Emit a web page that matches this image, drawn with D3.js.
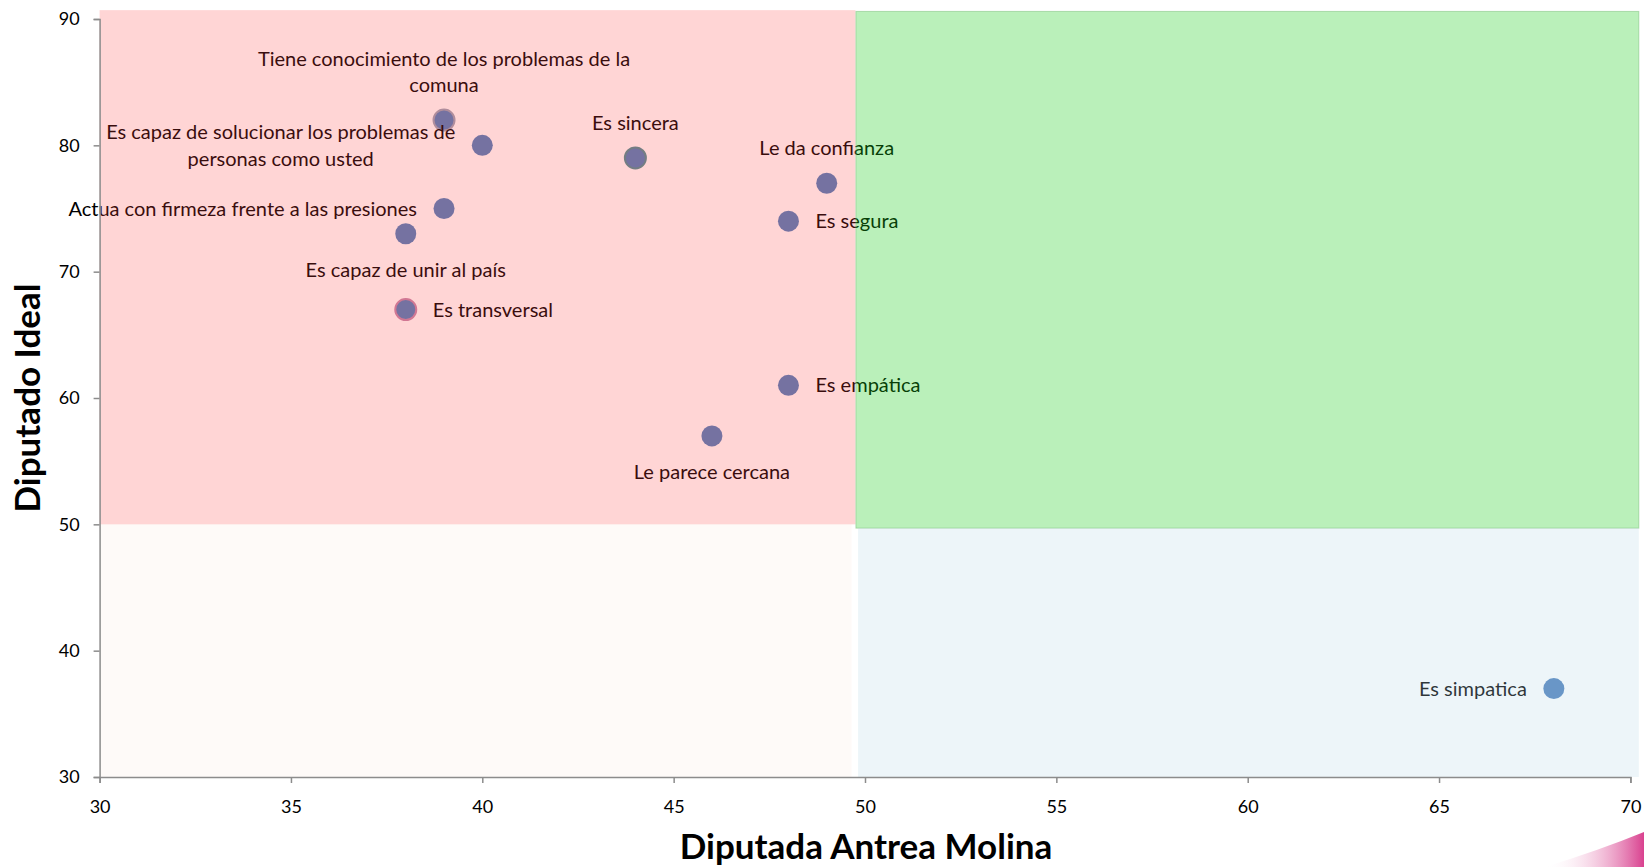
<!DOCTYPE html>
<html>
<head>
<meta charset="utf-8">
<script src="https://cdn.jsdelivr.net/npm/d3@7"></script>
<style>
  body { margin: 0; background: #fff; }
  svg { display: block; font-family: Lato, "Open Sans", sans-serif; }
  .axis path, .axis line { stroke: #8c8c8c; stroke-width: 1.5; }
  .axis text { font-size: 18px; fill: #000; font-family: Lato, "Open Sans", sans-serif; }
</style>
</head>
<body>
<svg id="chart"></svg>
<script>
// Atributos evaluados
var labels = [
  "Tiene conocimiento de los problemas de la\ncomuna",
  "Es capaz de solucionar los problemas de\npersonas como usted",
  "Es sincera",
  "Le da confianza",
  "Es segura",
  "Actua con firmeza frente a las presiones",
  "Es capaz de unir al país",
  "Es transversal",
  "Es empática",
  "Le parece cercana",
  "Es simpatica"
];
// Diputada Antrea Molina (x)
var molinaValues = [39, 40, 44, 49, 48, 39, 38, 38, 48, 46, 68];
// Diputado Ideal (y)
var idealValues = [82, 80, 79, 77, 74, 75, 73, 67, 61, 57, 37];
// where each data label sits
var labelSide = ["above", "left", "above", "above", "right", "left", "below", "right", "right", "below", "left"];

var xTicks = [30, 35, 40, 45, 50, 55, 60, 65, 70];
var yTicks = [30, 40, 50, 60, 70, 80, 90];

var width = 1644, height = 867;
var svg = d3.select("#chart").attr("width", width).attr("height", height);

var xScale = d3.scaleLinear().domain([30, 70]).range([99.6, 1630.4]);
var yScale = d3.scaleLinear().domain([30, 90]).range([777, 19]);

// decorative swoosh from the slide, bottom right
var grad = svg.append("defs").append("linearGradient")
    .attr("id", "swoosh").attr("x1", "0").attr("x2", "1");
grad.append("stop").attr("offset", "0").attr("stop-color", "#fff").attr("stop-opacity", 0);
grad.append("stop").attr("offset", "1").attr("stop-color", "#d9418f");
svg.append("path")
   .attr("d", "M1545,867 Q1600,850 1644,832 L1644,867 Z")
   .attr("fill", "url(#swoosh)");

// Points
var points = labels.map(function(d, i) {
  return {label: d, x: molinaValues[i], y: idealValues[i], side: labelSide[i]};
});

var rings = {"Tiene conocimiento de los problemas de la\ncomuna": "#9aa3b6",
             "Es sincera": "#4d8f96",
             "Es transversal": "#c487ab"};

svg.append("g").selectAll("circle")
   .data(points)
   .enter().append("circle")
   .attr("cx", function(d) {return xScale(d.x);})
   .attr("cy", function(d) {return yScale(d.y);})
   .attr("r", 10.5)
   .attr("fill", "#4f81bd")
   .attr("stroke", function(d) {return rings[d.label] || "none";})
   .attr("stroke-width", 2);

// Data labels
var lineH = 26.5, gap = 27;
var labelG = svg.append("g").style("font-size", "20px");
points.forEach(function(p) {
  var lines = p.label.split("\n");
  var t = labelG.append("text").attr("fill", "#000");
  lines.forEach(function(l) { t.append("tspan").text(l); });
  var maxW = 0;
  t.selectAll("tspan").each(function() { maxW = Math.max(maxW, this.getComputedTextLength()); });
  var cx = xScale(p.x), cy = yScale(p.y);
  var n = lines.length, firstY, tx = cx;
  if (p.side === "above") { firstY = cy - 35 - (n - 1) * lineH; }
  else if (p.side === "below") { firstY = cy + 36; }
  else {
    firstY = cy - (n - 1) * lineH / 2;
    if (p.side === "left") tx = cx - gap - maxW / 2;
    else tx = cx + gap + maxW / 2;
  }
  t.attr("text-anchor", "middle");
  t.selectAll("tspan")
   .attr("x", tx)
   .attr("y", function(d, i) {return firstY + i * lineH;})
   .attr("dy", "0.35em");
});

// Quadrant overlays (translucent, drawn over the marks like the original)
var splitX = 49.75, splitY = 50;
svg.append("rect")
   .attr("x", xScale(30)).attr("y", yScale(90.7))
   .attr("width", xScale(splitX) - xScale(30))
   .attr("height", yScale(splitY) - yScale(90.7))
   .attr("fill", "rgb(255,64,64)").attr("fill-opacity", 0.22);
svg.append("rect")
   .attr("x", xScale(splitX) + 0.5).attr("y", yScale(90.6))
   .attr("width", xScale(70.22) - xScale(splitX) - 0.5)
   .attr("height", yScale(49.7) - yScale(90.6))
   .attr("fill", "rgb(28,205,28)").attr("fill-opacity", 0.3)
   .attr("stroke", "rgb(120,190,120)").attr("stroke-opacity", 0.5).attr("stroke-width", 1);
svg.append("rect")
   .attr("x", xScale(30)).attr("y", yScale(splitY))
   .attr("width", xScale(49.65) - xScale(30))
   .attr("height", yScale(30) - yScale(splitY))
   .attr("fill", "rgb(245,205,185)").attr("fill-opacity", 0.1);
svg.append("rect")
   .attr("x", xScale(49.82)).attr("y", yScale(49.7))
   .attr("width", xScale(70.22) - xScale(49.82))
   .attr("height", yScale(30) - yScale(49.7))
   .attr("fill", "rgb(183,215,231)").attr("fill-opacity", 0.25);

// Axes
svg.append("g")
   .attr("class", "axis")
   .attr("transform", "translate(0," + yScale(30) + ")")
   .call(d3.axisBottom(xScale).tickValues(xTicks).tickSize(6).tickPadding(17).tickFormat(d3.format("d")))
   .attr("font-family", null).attr("font-size", null);

svg.append("g")
   .attr("class", "axis")
   .attr("transform", "translate(" + xScale(30) + ",0)")
   .call(d3.axisLeft(yScale).tickValues(yTicks).tickSize(6).tickPadding(14).tickFormat(d3.format("d")))
   .attr("font-family", null).attr("font-size", null);

svg.selectAll(".axis .domain").attr("fill", "none");

// Axis titles
svg.append("text")
   .attr("x", 866).attr("y", 859)
   .attr("text-anchor", "middle")
   .style("font-size", "35px").style("font-weight", "bold")
   .text("Diputada Antrea Molina");

svg.append("text")
   .attr("transform", "translate(39.5,398) rotate(-90)")
   .attr("text-anchor", "middle")
   .style("font-size", "35px").style("font-weight", "bold")
   .text("Diputado Ideal");
</script>
</body>
</html>
